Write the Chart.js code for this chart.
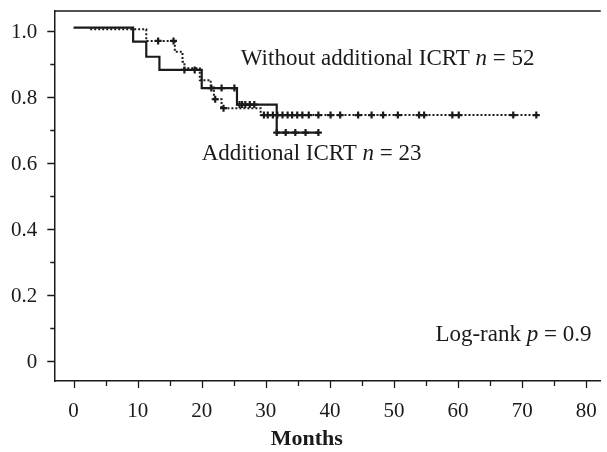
<!DOCTYPE html>
<html>
<head>
<meta charset="utf-8">
<script src="https://cdn.jsdelivr.net/npm/chart.js@4"></script>
<style>
  html, body { margin: 0; padding: 0; background: #fff; }
  canvas { display: block; }
</style>
</head>
<body>
<canvas id="kmChart" width="607" height="452"></canvas>
<script>
// Additional ICRT (n = 23), solid line: step times and survival after each step
var solidTime = [0, 9.3, 11.35, 13.4, 20.0, 25.5, 31.7, 38.2];
var solidSurv = [1.01, 0.968, 0.922, 0.882, 0.827, 0.777, 0.692, 0.692];
var solidCensor = [17.3, 18.9, 21.5, 23.1, 25.1, 25.9, 26.3, 26.8, 27.5, 28.2, 31.7, 33.1, 34.6, 36.2, 38.2];

// Without additional ICRT (n = 52), dotted line
var dottedTime = [2.6, 11.35, 15.8, 17.0, 17.3, 19.7, 21.4, 21.9, 23.1, 29.2, 72.2];
var dottedSurv = [1.005, 0.970, 0.937, 0.907, 0.887, 0.851, 0.829, 0.793, 0.766, 0.745, 0.745];
var dottedCensor = [13.2, 15.6, 22.1, 23.4, 29.7, 30.3, 31.1, 31.8, 32.6, 33.4, 34.1, 34.9, 35.7,
                    36.7, 38.2, 40.1, 41.6, 44.4, 46.5, 48.3, 50.6, 53.9, 54.7, 59.1, 60.1, 68.6, 72.2];

// axis ticks
var xTicks = [0, 10, 20, 30, 40, 50, 60, 70, 80];
var yTicks = [0, 0.2, 0.4, 0.6, 0.8, 1.0];
var yTickLabels = ['0', '0.2', '0.4', '0.6', '0.8', '1.0'];

var INK = '#1a1a1a';
var FONT = '"Liberation Serif", "Times New Roman", serif';

function toPoints(times, surv) {
    return times.map(function (t, i) { return { x: t, y: surv[i] }; });
}

// survival level of a curve at time t (for placing censor marks)
function levelAt(times, surv, t) {
    var s = surv[0];
    for (var i = 0; i < times.length; i++) {
        if (times[i] <= t + 1e-9) s = surv[i];
    }
    return s;
}

function censorPoints(times, surv, marks) {
    return marks.map(function (t) { return { x: t, y: levelAt(times, surv, t) }; });
}

function drawRuns(ctx, runs, px, py, align, size) {
    var widths = runs.map(function (r) {
        ctx.font = (r[1] ? 'italic ' : '') + size + 'px ' + FONT;
        return ctx.measureText(r[0]).width;
    });
    var total = widths.reduce(function (s, w) { return s + w; }, 0);
    var cx = align === 'right' ? px - total : (align === 'center' ? px - total / 2 : px);
    ctx.textAlign = 'left';
    runs.forEach(function (r, i) {
        ctx.font = (r[1] ? 'italic ' : '') + size + 'px ' + FONT;
        ctx.fillText(r[0], cx, py);
        cx += widths[i];
    });
}

// frame top line, tick marks, tick labels and text labels
var decor = {
    id: 'decor',
    afterDraw: function (chart) {
        var ctx = chart.ctx, a = chart.chartArea;
        var x = chart.scales.x, y = chart.scales.y;
        ctx.save();
        ctx.strokeStyle = INK;
        ctx.lineWidth = 1.5;
        ctx.beginPath();
        ctx.moveTo(a.left, a.top);
        ctx.lineTo(a.right, a.top);
        ctx.stroke();

        ctx.lineWidth = 1.3;
        ctx.beginPath();
        xTicks.forEach(function (v, i) {
            var px = Math.round(x.getPixelForValue(v)) + 0.5;
            ctx.moveTo(px, a.bottom);
            ctx.lineTo(px, a.bottom + 7);
            if (i < xTicks.length - 1) {
                var mx = Math.round(x.getPixelForValue((v + xTicks[i + 1]) / 2)) + 0.5;
                ctx.moveTo(mx, a.bottom);
                ctx.lineTo(mx, a.bottom + 5);
            }
        });
        yTicks.forEach(function (v, i) {
            var py = Math.round(y.getPixelForValue(v)) + 0.5;
            ctx.moveTo(a.left, py);
            ctx.lineTo(a.left - 7, py);
            if (i < yTicks.length - 1) {
                var my = Math.round(y.getPixelForValue((v + yTicks[i + 1]) / 2)) + 0.5;
                ctx.moveTo(a.left, my);
                ctx.lineTo(a.left - 4, my);
            }
        });
        ctx.stroke();

        ctx.fillStyle = INK;
        ctx.textBaseline = 'alphabetic';

        // tick labels
        ctx.font = '21px ' + FONT;
        ctx.textAlign = 'center';
        xTicks.forEach(function (v) {
            ctx.fillText(String(v), x.getPixelForValue(v), a.bottom + 36);
        });
        ctx.textAlign = 'right';
        yTicks.forEach(function (v, i) {
            ctx.fillText(yTickLabels[i], a.left - 17, y.getPixelForValue(v) + 7);
        });

        // axis title
        ctx.font = 'bold 22px ' + FONT;
        ctx.textAlign = 'center';
        ctx.fillText('Months', x.getPixelForValue(36.4), 445);

        // annotations
        drawRuns(ctx, [['Without additional ICRT ', false], ['n', true], [' = 52', false]],
            x.getPixelForValue(26.1), y.getPixelForValue(0.897), 'left', 23);
        drawRuns(ctx, [['Additional ICRT ', false], ['n', true], [' = 23', false]],
            x.getPixelForValue(20.0), y.getPixelForValue(0.609), 'left', 23);
        drawRuns(ctx, [['Log-rank ', false], ['p', true], [' = 0.9', false]],
            x.getPixelForValue(80.8), y.getPixelForValue(0.06), 'right', 23);
        ctx.restore();
    }
};

var ctx = document.getElementById('kmChart').getContext('2d');
var chart = new Chart(ctx, {
    type: 'line',
    data: {
        datasets: [
            {
                label: 'Additional ICRT',
                data: toPoints(solidTime, solidSurv),
                stepped: 'before',
                borderColor: INK,
                borderWidth: 2.2,
                pointRadius: 0,
                fill: false,
                order: 1
            },
            {
                label: 'Without additional ICRT',
                data: toPoints(dottedTime, dottedSurv),
                stepped: 'before',
                borderColor: INK,
                borderWidth: 2,
                borderDash: [2, 2],
                pointRadius: 0,
                fill: false,
                order: 2
            },
            {
                label: 'Additional ICRT censored',
                data: censorPoints(solidTime, solidSurv, solidCensor),
                showLine: false,
                pointStyle: 'cross',
                pointRadius: 3.5,
                pointBorderWidth: 2.2,
                pointBorderColor: INK,
                order: 0
            },
            {
                label: 'Without additional ICRT censored',
                data: censorPoints(dottedTime, dottedSurv, dottedCensor),
                showLine: false,
                pointStyle: 'cross',
                pointRadius: 3.5,
                pointBorderWidth: 2.2,
                pointBorderColor: INK,
                order: 0
            }
        ]
    },
    options: {
        responsive: false,
        animation: false,
        devicePixelRatio: 1,
        layout: { padding: { top: 11, right: 0, left: 0, bottom: 0 } },
        plugins: {
            legend: { display: false },
            tooltip: { enabled: false }
        },
        scales: {
            x: {
                type: 'linear',
                min: -3,
                max: 82.26,
                grid: { display: false, drawTicks: false },
                border: { display: true, color: INK, width: 1.5 },
                afterBuildTicks: function (scale) {
                    scale.ticks = xTicks.map(function (v) { return { value: v }; });
                },
                afterFit: function (scale) { scale.height = 71; },
                ticks: { display: false }
            },
            y: {
                type: 'linear',
                min: -0.0616,
                max: 1.0607,
                grid: { display: false, drawTicks: false },
                border: { display: true, color: INK, width: 1.5 },
                afterBuildTicks: function (scale) {
                    scale.ticks = yTicks.map(function (v) { return { value: v }; });
                },
                afterFit: function (scale) { scale.width = 54.3; },
                ticks: { display: false }
            }
        }
    },
    plugins: [decor]
});
</script>
</body>
</html>
